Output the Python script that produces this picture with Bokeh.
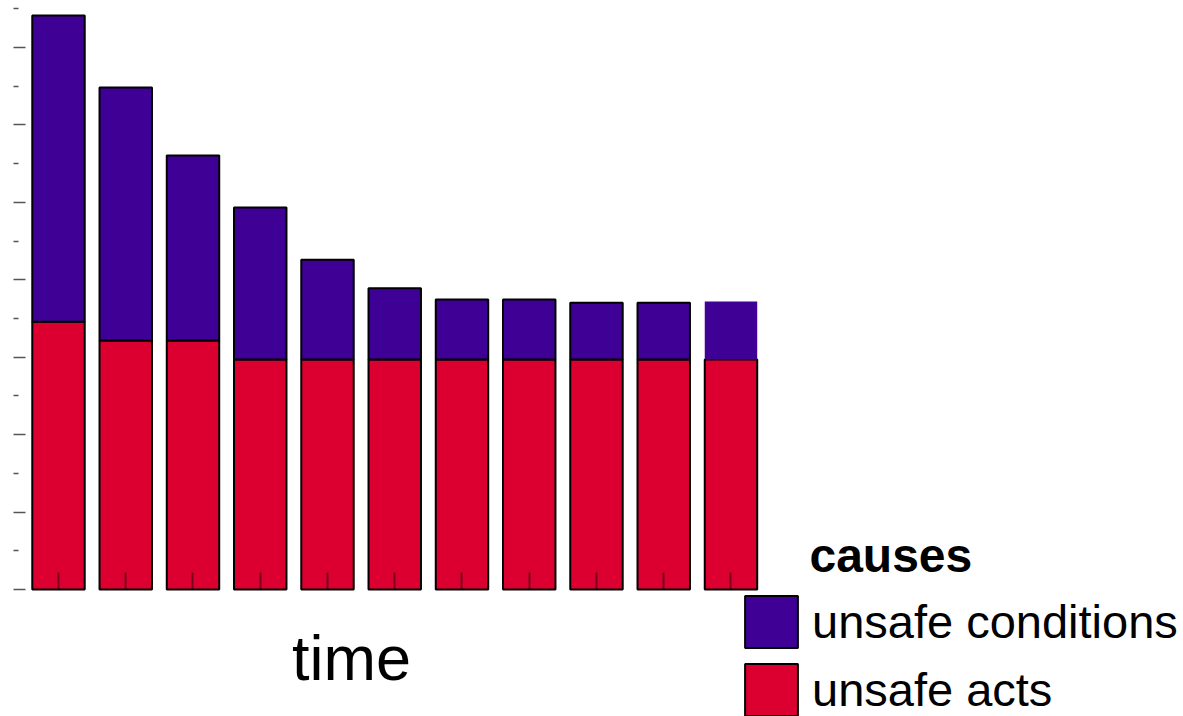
import numpy as np
from bokeh.plotting import figure
from bokeh.models import (ColumnDataSource, FixedTicker, Range1d, Legend, LegendItem, Label,
                          CustomJSTickFormatter)
from bokeh.embed import file_html
from bokeh.resources import INLINE

# data
periods = [1, 2, 3, 4, 5, 6, 7, 8, 9, 10, 11]
unsafe_acts = [6.92, 6.43, 6.43, 5.94, 5.94, 5.94, 5.94, 5.94, 5.94, 5.94, 5.94]
unsafe_conditions = [7.91, 6.54, 4.78, 3.93, 2.58, 1.84, 1.55, 1.55, 1.47, 1.47, 1.50]
series_names = ["unsafe conditions", "unsafe acts"]
legend_title = "causes"
x_title = "time"
y_major = [0, 2, 4, 6, 8, 10, 12, 14]
y_minor = [1, 3, 5, 7, 9, 11, 13, 15]

PURPLE = "#3f0096"
RED = "#db0030"
FONT = "Liberation Sans"

acts = np.array(unsafe_acts)
cond = np.array(unsafe_conditions)
n = len(periods)
src = ColumnDataSource(dict(
    x=periods,
    acts_bottom=np.zeros(n),
    acts_top=acts,
    cond_bottom=acts,
    cond_top=acts + cond,
    cond_line_alpha=[1.0] * (n - 1) + [0.0],
))

W, H = 1183, 716
p = figure(width=W, height=H, output_backend="svg", toolbar_location=None,
           x_range=Range1d(0.5093, 17.729), y_range=Range1d(-3.281, 15.216),
           min_border_left=25, min_border_right=0, min_border_top=0, min_border_bottom=0)
p.outline_line_color = None
p.xgrid.visible = False
p.ygrid.visible = False
p.background_fill_color = "white"

r_acts = p.vbar(x="x", bottom="acts_bottom", top="acts_top", width=0.78, source=src,
                fill_color=RED, line_color="black", line_width=2)
r_cond = p.vbar(x="x", bottom="cond_bottom", top="cond_top", width=0.78, source=src,
                fill_color=PURPLE, line_color="black", line_width=2, line_alpha="cond_line_alpha")

blank = CustomJSTickFormatter(code="return ''")

# y axis: tick marks only
ya = p.yaxis[0]
ya.ticker = FixedTicker(ticks=y_major, minor_ticks=y_minor)
ya.formatter = blank
ya.axis_line_color = None
ya.major_tick_in = 0
ya.major_tick_out = 12
ya.minor_tick_in = -7
ya.minor_tick_out = 12
ya.major_tick_line_color = "#555555"
ya.minor_tick_line_color = "#555555"
ya.major_tick_line_width = 1.5
ya.minor_tick_line_width = 1.5
ya.major_label_standoff = 0

# x axis: inside ticks only, sitting on the zero line
xa = p.xaxis[0]
xa.ticker = FixedTicker(ticks=periods, minor_ticks=[])
xa.formatter = blank
xa.fixed_location = 0
xa.axis_line_color = None
xa.major_tick_in = 17
xa.major_tick_out = 0
xa.major_tick_line_color = "black"
xa.major_tick_line_alpha = 0.45
xa.major_tick_line_width = 2
xa.major_label_standoff = 0

legend = Legend(items=[LegendItem(label=series_names[0], renderers=[r_cond]),
                       LegendItem(label=series_names[1], renderers=[r_acts])],
                location=(713, -6), padding=0, margin=0, spacing=3,
                glyph_width=66, glyph_height=65, label_height=65, label_standoff=8,
                label_text_font=FONT, label_text_font_size="47px", label_text_color="black",
                border_line_color=None, background_fill_alpha=0)
p.add_layout(legend, "center")

p.add_layout(Label(x=12.167, y=0.88, text=legend_title,
                   text_font=FONT, text_font_style="bold", text_font_size="48px",
                   text_baseline="alphabetic", text_align="left", text_color="black"))
p.add_layout(Label(x=5.357, y=-1.76, text=x_title,
                   text_font=FONT, text_font_size="63px",
                   text_baseline="alphabetic", text_align="center", text_color="black"))

open("out.html", "w").write(file_html(p, INLINE))
